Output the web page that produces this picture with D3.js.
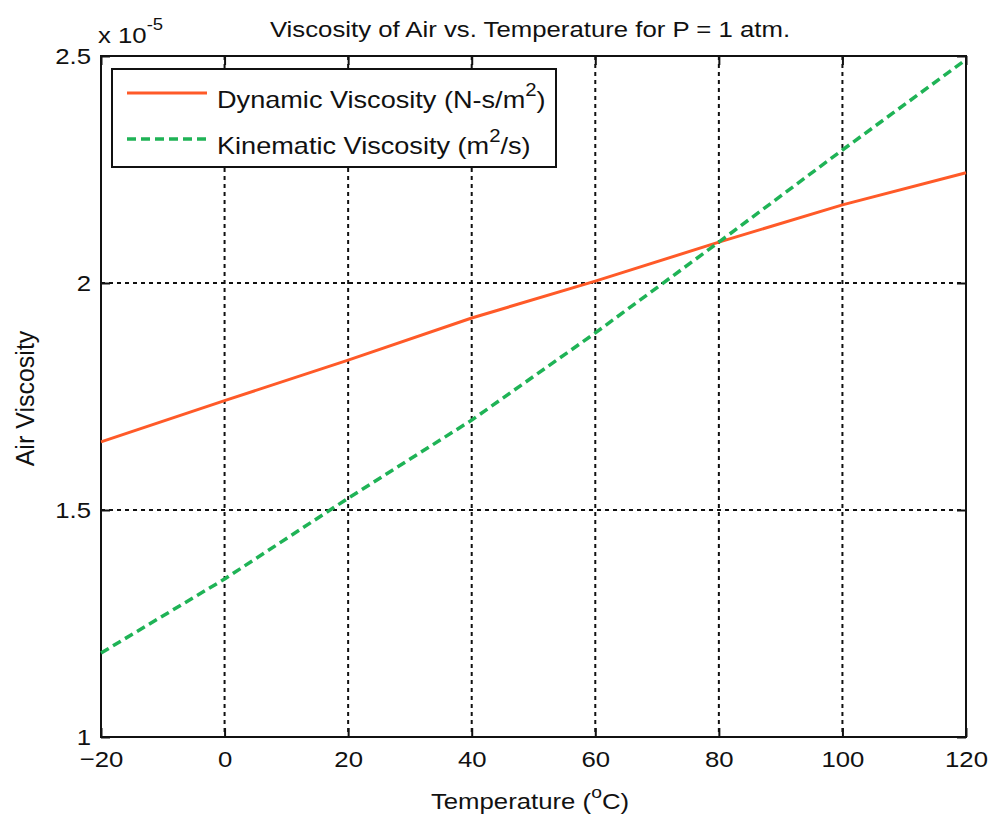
<!DOCTYPE html>
<html>
<head>
<meta charset="utf-8">
<script src="https://cdn.jsdelivr.net/npm/d3@7"></script>
<style>
  body { margin: 0; background: #fff; }
  svg text { font-family: "Liberation Sans", Arial, sans-serif; fill: #111; }
</style>
</head>
<body>
<div class="canvas"></div>
<script>
// data (viscosity values in units of 1e-5)
const temps = [-20, 0, 20, 40, 60, 80, 100, 120];
const dynamic = [1.650, 1.741, 1.830, 1.923, 2.004, 2.090, 2.172, 2.243];
const kinematic = [1.185, 1.348, 1.526, 1.698, 1.890, 2.090, 2.293, 2.492];
const xTicks = [-20, 0, 20, 40, 60, 80, 100, 120];
const yTicks = [1, 1.5, 2, 2.5];
const seriesNames = ["Dynamic Viscosity (N-s/m", "Kinematic Viscosity (m"];

const dims = { width: 992, height: 819 };
const margin = { left: 101, right: 26, top: 56, bottom: 82 };
const innerW = dims.width - margin.left - margin.right;
const innerH = dims.height - margin.top - margin.bottom;
const fs = 23;      // font size
const sx = 1.12;    // the original figure is a bit wider than tall, text too

const svg = d3.select(".canvas")
  .append("svg")
  .attr("width", dims.width)
  .attr("height", dims.height);

//widen text around its anchor point
const stretch = (sel, s = sx) => sel.each(function () {
  const t = d3.select(this);
  const x0 = +t.attr("x") || 0;
  t.attr("transform", `translate(${x0 * (1 - s)},0) scale(${s},1)`);
});

const graph = svg.append("g")
  .attr("transform", `translate(${margin.left},${margin.top})`);

const x = d3.scaleLinear().domain([-20, 120]).range([0, innerW]);
const y = d3.scaleLinear().domain([1, 2.5]).range([innerH, 0]);

//grid
graph.append("g")
  .selectAll("line")
  .data(xTicks.slice(1, -1))
  .join("line")
  .attr("x1", d => x(d)).attr("x2", d => x(d))
  .attr("y1", 0).attr("y2", innerH)
  .attr("stroke", "#111").attr("stroke-width", 2)
  .attr("stroke-dasharray", "4,4");

graph.append("g")
  .selectAll("line")
  .data(yTicks.slice(1, -1))
  .join("line")
  .attr("y1", d => y(d)).attr("y2", d => y(d))
  .attr("x1", 0).attr("x2", innerW)
  .attr("stroke", "#111").attr("stroke-width", 2)
  .attr("stroke-dasharray", "4,4");

//axes (ticks point inward)
const styleAxis = g => {
  g.select(".domain").remove();
  g.selectAll(".tick line").attr("stroke", "#111").attr("stroke-width", 2);
  g.selectAll("text").attr("font-size", fs).attr("fill", "#111").call(stretch);
};

graph.append("g")
  .attr("transform", `translate(0,${innerH})`)
  .call(d3.axisBottom(x).tickValues(xTicks).tickSizeInner(-9).tickSizeOuter(0).tickPadding(14))
  .call(styleAxis);

graph.append("g")
  .call(d3.axisTop(x).tickValues(xTicks).tickSizeInner(-9).tickSizeOuter(0).tickFormat(""))
  .call(styleAxis);

graph.append("g")
  .call(d3.axisLeft(y).tickValues(yTicks).tickSizeInner(-9).tickSizeOuter(0).tickPadding(10).tickFormat(d3.format("")))
  .call(styleAxis);

graph.append("g")
  .attr("transform", `translate(${innerW},0)`)
  .call(d3.axisRight(y).tickValues(yTicks).tickSizeInner(-9).tickSizeOuter(0).tickFormat(""))
  .call(styleAxis);

//frame
graph.append("rect")
  .attr("width", innerW).attr("height", innerH)
  .attr("fill", "none").attr("stroke", "#111").attr("stroke-width", 2);

//lines
const line = vals => d3.line()
  .x((d, i) => x(temps[i]))
  .y(d => y(d))(vals);

graph.append("path")
  .attr("d", line(dynamic))
  .attr("fill", "none")
  .attr("stroke", "#ff5a28")
  .attr("stroke-width", 3);

graph.append("path")
  .attr("d", line(kinematic))
  .attr("fill", "none")
  .attr("stroke", "#1fb356")
  .attr("stroke-width", 3.5)
  .attr("stroke-dasharray", "9,5");

//legend
const legend = graph.append("g").attr("transform", "translate(11,13)");
legend.append("rect")
  .attr("width", 444).attr("height", 98)
  .attr("fill", "#fff").attr("stroke", "#111").attr("stroke-width", 2);

const legendItems = [
  { name: seriesNames[0], sup: "2", tail: ")", color: "#ff5a28", dash: null, y: 24 },
  { name: seriesNames[1], sup: "2", tail: "/s)", color: "#1fb356", dash: "9,5", y: 70 }
];

legendItems.forEach(item => {
  legend.append("line")
    .attr("x1", 15).attr("x2", 95)
    .attr("y1", item.y).attr("y2", item.y)
    .attr("stroke", item.color)
    .attr("stroke-width", item.dash ? 3.5 : 3)
    .attr("stroke-dasharray", item.dash);
  const t = legend.append("text")
    .attr("x", 105).attr("y", item.y + 15)
    .attr("font-size", 24);
  t.append("tspan").text(item.name);
  t.append("tspan").attr("dy", -12).attr("font-size", 18).text(item.sup);
  t.append("tspan").attr("dy", 12).text(item.tail);
  t.call(stretch, 1.13);
});

//labels
svg.append("text")
  .attr("x", 530).attr("y", 37)
  .attr("text-anchor", "middle")
  .attr("font-size", fs)
  .text("Viscosity of Air vs. Temperature for P = 1 atm.")
  .call(stretch);

const expo = svg.append("text")
  .attr("x", 98).attr("y", 43)
  .attr("font-size", fs);
expo.append("tspan").text("x 10");
expo.append("tspan").attr("dy", -13).attr("font-size", fs * 0.72).text("-5");
expo.call(stretch);

const xLabel = svg.append("text")
  .attr("x", 530).attr("y", 809)
  .attr("text-anchor", "middle")
  .attr("font-size", fs);
xLabel.append("tspan").text("Temperature (");
xLabel.append("tspan").attr("dy", -11).attr("font-size", fs * 0.75).text("o");
xLabel.append("tspan").attr("dy", 11).text("C)");
xLabel.call(stretch);

svg.append("text")
  .attr("transform", `translate(34,${margin.top + innerH / 2 + 2}) rotate(-90)`)
  .attr("text-anchor", "middle")
  .attr("font-size", 25)
  .text("Air Viscosity");
</script>
</body>
</html>
